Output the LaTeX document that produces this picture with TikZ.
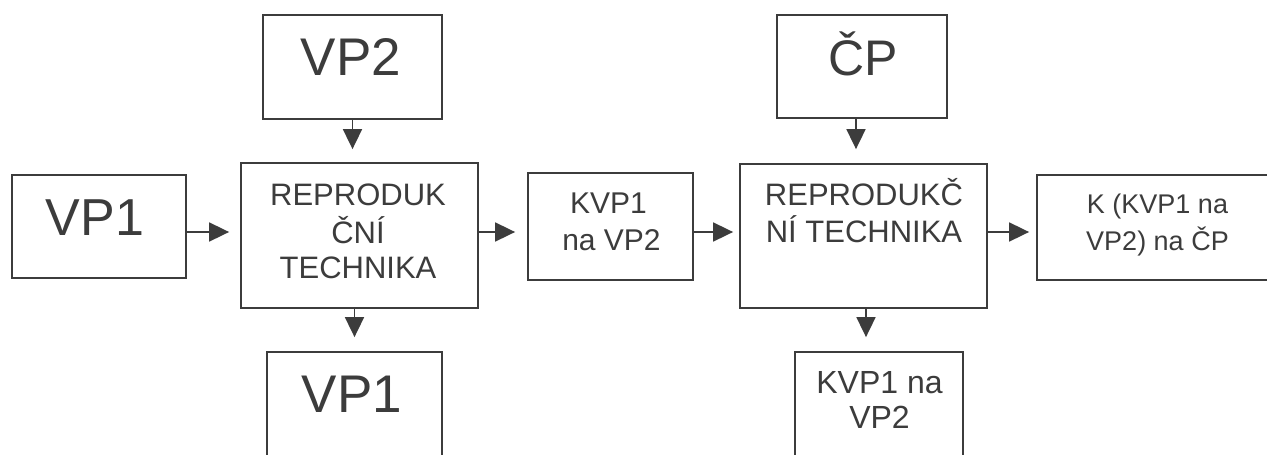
\documentclass[tikz,border=0pt]{standalone}
\usepackage{fontspec}
\setmainfont{Liberation Sans}
\usetikzlibrary{arrows.meta,calc}
\definecolor{ink}{HTML}{3C3C3C}
\begin{document}
\begin{tikzpicture}[x=1pt,y=-1pt,
  box/.style={draw=ink, line width=1.8pt, inner sep=0pt},
  arr/.style={draw=ink, line width=1.8pt, -{Triangle[length=20pt,width=19pt]}},
  txt/.style={text=ink, inner sep=0pt, anchor=base},
  big/.style={txt, font=\fontsize{53}{60}\selectfont},
  mid/.style={txt, font=\fontsize{31}{37}\selectfont}]
\useasboundingbox (0,0) rectangle (1267,455);
\clip (0,0) rectangle (1267,455);
\fill[white] (0,0) rectangle (1267,455);

% boxes
\node[box, minimum width=179pt, minimum height=104pt] (vp2) at (352.5,67) {};
\node[box, minimum width=174pt, minimum height=103pt] (vp1a) at (99,226.5) {};
\node[box, minimum width=237pt, minimum height=145pt] (rep1) at (359.5,235.5) {};
\node[box, minimum width=175pt, minimum height=128pt] (vp1b) at (354.5,416) {};
\node[box, minimum width=165pt, minimum height=107pt] (kvp) at (610.5,226.5) {};
\node[box, minimum width=170pt, minimum height=103pt] (cp) at (862,66.5) {};
\node[box, minimum width=247pt, minimum height=144pt] (rep2) at (863.5,236) {};
\node[box, minimum width=168pt, minimum height=128pt] (kvpb) at (879,416) {};
\node[box, minimum width=242pt, minimum height=105pt] (k) at (1158,227.5) {};

% texts
\node[big] (tvp2) at (351,75) {VP2};
\node[big, font=\fontsize{52}{60}\selectfont] (tvp1a) at (95,235) {VP1};
\node[mid] (tr1a) at (358,205) {REPRODUK};
\node[mid] (tr1b) at (358,243) {ČNÍ};
\node[mid] (tr1c) at (358,278) {TECHNIKA};
\node[big, font=\fontsize{53}{60}\selectfont] (tvp1b) at (352,412) {VP1};
\node[mid, font=\fontsize{30}{37}\selectfont] (tk1a) at (608.5,213) {KVP1};
\node[mid, font=\fontsize{30}{37}\selectfont] (tk1b) at (611.5,250) {na VP2};
\node[big, font=\fontsize{50}{60}\selectfont] (tcp) at (863.5,75) {ČP};
\node[mid] (tr2a) at (864,205) {REPRODUKČ};
\node[mid] (tr2b) at (864,242) {NÍ TECHNIKA};
\node[mid, font=\fontsize{27}{37}\selectfont] (tka) at (1157.5,213) {K (KVP1 na};
\node[mid, font=\fontsize{27}{37}\selectfont] (tkb) at (1157.5,250) {VP2) na ČP};
\node[mid, font=\fontsize{32}{37}\selectfont] (tkva) at (879.5,393) {KVP1 na};
\node[mid, font=\fontsize{32}{37}\selectfont] (tkvb) at (879.5,428) {VP2};

% connectors
\coordinate (row) at (0,232);
\coordinate (c1) at (856,0);
\coordinate (c2) at (866,0);
\draw[arr] (vp2.south) -- ($(vp2.south |- rep1.north)+(0,-13)$);
\draw[arr] (vp1a.east |- row) -- ($(rep1.west |- row)+(-11,0)$);
\draw[arr] (rep1.east |- row) -- ($(kvp.west |- row)+(-12,0)$);
\draw[arr] (vp1b.north |- rep1.south) -- ($(vp1b.north)+(0,-14)$);
\draw[arr] (kvp.east |- row) -- ($(rep2.west |- row)+(-6,0)$);
\draw[arr] (c1 |- cp.south) -- ($(c1 |- rep2.north)+(0,-14)$);
\draw[arr] (rep2.east |- row) -- ($(k.west |- row)+(-7,0)$);
\draw[arr] (c2 |- rep2.south) -- ($(c2 |- kvpb.north)+(0,-14)$);
\end{tikzpicture}
\end{document}
